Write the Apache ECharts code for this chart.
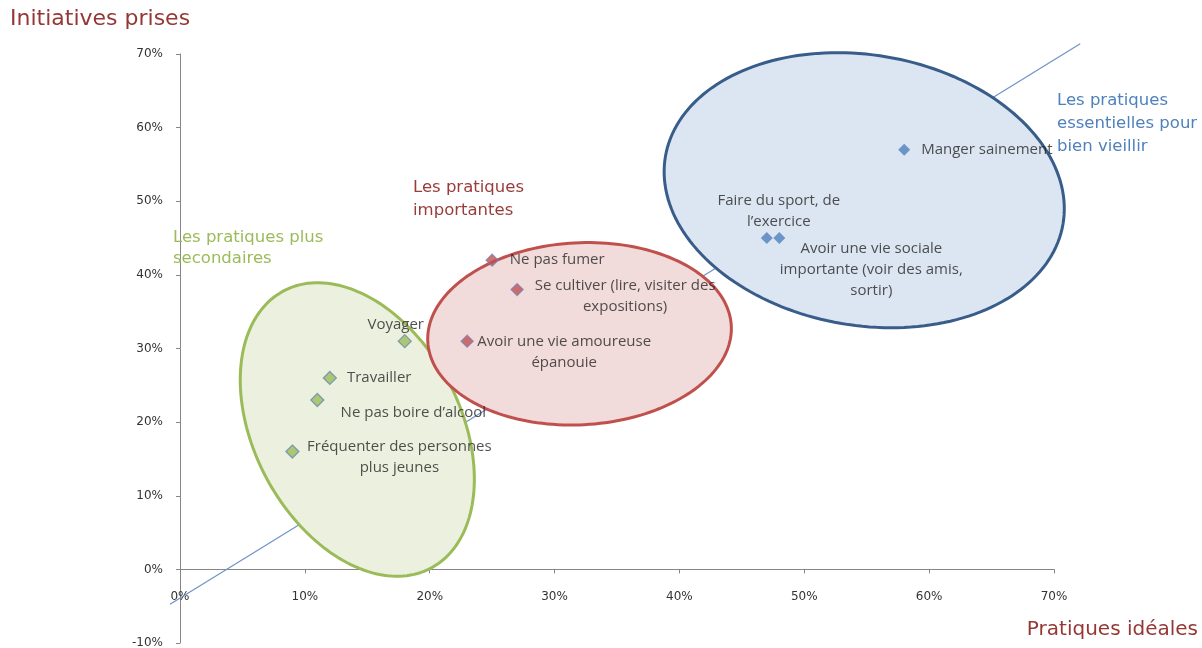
<!DOCTYPE html>
<html>
<head>
<meta charset="utf-8">
<script src="https://cdn.jsdelivr.net/npm/echarts@6/dist/echarts.min.js"></script>
<style>
html,body{margin:0;padding:0;background:#fff;}
#chart{width:1202px;height:648px;}
</style>
</head>
<body>
<div id="chart"></div>
<script>
// ---- Data ----
const xTicks = [0, 10, 20, 30, 40, 50, 60, 70];
const yTicks = [-10, 0, 10, 20, 30, 40, 50, 60, 70];

const secondaryNames = ['Voyager', 'Travailler', 'Ne pas boire d’alcool', 'Fréquenter des personnes\nplus jeunes'];
const secondaryIdeal = [18, 12, 11, 9];
const secondaryTaken = [31, 26, 23, 16];

const importantNames = ['Ne pas fumer', 'Se cultiver (lire, visiter des\nexpositions)', 'Avoir une vie amoureuse\népanouie'];
const importantIdeal = [25, 27, 23];
const importantTaken = [42, 38, 31];

const essentialNames = ['Manger sainement', 'Faire du sport, de\nl’exercice', 'Avoir une vie sociale\nimportante (voir des amis,\nsortir)'];
const essentialIdeal = [58, 47, 48];
const essentialTaken = [57, 45, 45];

const trendIdeal = [-0.8, 72.1];
const trendTaken = [-4.75, 71.4];

// ---- Layout / style (not data) ----
const labelPlacement = {
  'Voyager': {offset: [-9, -16]},
  'Travailler': {right: 10},
  'Ne pas boire d’alcool': {offset: [96, 13]},
  'Fréquenter des personnes\nplus jeunes': {offset: [107, 6]},
  'Ne pas fumer': {right: 11},
  'Se cultiver (lire, visiter des\nexpositions)': {offset: [108, 7]},
  'Avoir une vie amoureuse\népanouie': {offset: [97, 11]},
  'Manger sainement': {right: 11},
  'Faire du sport, de\nl’exercice': {offset: [12, -27]},
  'Avoir une vie sociale\nimportante (voir des amis,\nsortir)': {offset: [92, 32]}
};

// ellipse zones: centre in data units, radii in x-axis units, rotation in degrees (screen, clockwise)
const zones = [
  {c: [14.2, 19.0], r: [8.25, 12.57], rot: -28, fill: '#EBF1DE', stroke: '#9BBB59'},
  {c: [32.0, 32.0], r: [12.17, 7.29], rot: -3, fill: '#F2DCDB', stroke: '#C0504D'},
  {c: [54.8, 51.5], r: [16.15, 10.83], rot: 9.65, fill: '#DCE6F2', stroke: '#385D8A'}
];

const gridTop = 54, gridBottom = 5, chartH = 648;
const yMin = yTicks[0], yMax = yTicks[yTicks.length - 1];
// shift the x axis up so that it crosses the y axis at 0
const xAxisOffset = -((chartH - gridTop - gridBottom) * (0 - yMin) / (yMax - yMin));

function makeData(names, xs, ys) {
  return names.map((n, i) => {
    const p = labelPlacement[n];
    let label;
    if (p.right !== undefined) {
      label = {show: true, position: 'right', distance: p.right, formatter: n, align: 'left', verticalAlign: 'middle'};
    } else {
      label = {show: true, position: 'inside', offset: p.offset, formatter: n, align: 'center', verticalAlign: 'middle'};
    }
    return {name: n, value: [xs[i], ys[i]], label: label};
  });
}

const chart = echarts.init(document.getElementById('chart'), null, {renderer: 'canvas'});

const axisFont = {fontFamily: 'DejaVu Sans', fontSize: 12, color: '#333333'};
const pointLabelStyle = {fontFamily: 'Open Sans', fontSize: 15, color: '#262626', lineHeight: 21};

const option = {
  animation: false,
  backgroundColor: '#ffffff',
  grid: {left: 180, right: 148, top: gridTop, bottom: gridBottom, containLabel: false, outerBoundsMode: 'none'},
  xAxis: {
    type: 'value', min: xTicks[0], max: xTicks[xTicks.length - 1], interval: 10,
    offset: xAxisOffset,
    axisLine: {show: true, onZero: false, lineStyle: {color: '#868686', width: 1}},
    axisTick: {show: true, length: 4, inside: false, lineStyle: {color: '#868686'}},
    axisLabel: Object.assign({margin: 21, formatter: v => v + '%'}, axisFont),
    splitLine: {show: false}
  },
  yAxis: {
    type: 'value', min: yMin, max: yMax, interval: 10,
    axisLine: {show: true, onZero: false, lineStyle: {color: '#868686', width: 1}},
    axisTick: {show: true, length: 4, lineStyle: {color: '#868686'}},
    axisLabel: Object.assign({margin: 17, formatter: v => v + '%'}, axisFont),
    splitLine: {show: false}
  },
  series: [
    {
      type: 'custom', name: 'trend', z: 1, silent: true,
      data: [[trendIdeal[0], trendTaken[0], trendIdeal[1], trendTaken[1]]],
      encode: {x: [0, 2], y: [1, 3]},
      renderItem: function (params, api) {
        const p1 = api.coord([api.value(0), api.value(1)]);
        const p2 = api.coord([api.value(2), api.value(3)]);
        return {
          type: 'line',
          shape: {x1: p1[0], y1: p1[1], x2: p2[0], y2: p2[1]},
          style: {stroke: '#6F93C6', lineWidth: 1.2}
        };
      }
    },
    {
      type: 'custom', name: 'zones', z: 2, silent: true,
      data: zones.map(z => [z.c[0], z.c[1]]),
      renderItem: function (params, api) {
        const z = zones[params.dataIndex];
        const c = api.coord([api.value(0), api.value(1)]);
        const unit = api.size([1, 1])[0];
        const rx = z.r[0] * unit, ry = z.r[1] * unit;
        const a = z.rot * Math.PI / 180;
        const pts = [];
        for (let k = 0; k < 180; k++) {
          const t = k / 180 * Math.PI * 2;
          const lx = rx * Math.cos(t), ly = ry * Math.sin(t);
          pts.push([c[0] + lx * Math.cos(a) - ly * Math.sin(a), c[1] + lx * Math.sin(a) + ly * Math.cos(a)]);
        }
        return {
          type: 'polygon',
          shape: {points: pts},
          style: {fill: z.fill, stroke: z.stroke, lineWidth: 3}
        };
      }
    },
    {
      type: 'scatter', name: 'secondaires', z: 5, symbol: 'diamond', symbolSize: 13,
      itemStyle: {color: '#9BBB59', borderColor: '#6B8CAE', borderWidth: 1.3},
      label: pointLabelStyle,
      data: makeData(secondaryNames, secondaryIdeal, secondaryTaken)
    },
    {
      type: 'scatter', name: 'importantes', z: 5, symbol: 'diamond', symbolSize: 12,
      itemStyle: {color: '#C0504D', borderColor: '#7D7DB8', borderWidth: 1.3},
      label: pointLabelStyle,
      data: makeData(importantNames, importantIdeal, importantTaken)
    },
    {
      type: 'scatter', name: 'essentielles', z: 5, symbol: 'diamond', symbolSize: 12,
      itemStyle: {color: '#4F81BD'},
      label: pointLabelStyle,
      data: makeData(essentialNames, essentialIdeal, essentialTaken)
    }
  ],
  graphic: [
    {type: 'text', left: 10, top: 8, z: 10, style: {text: 'Initiatives prises', fontFamily: 'DejaVu Sans', fontSize: 22, fill: '#953735'}},
    {type: 'text', right: 4, top: 620, z: 10, style: {text: 'Pratiques idéales', fontFamily: 'DejaVu Sans', fontSize: 20, fill: '#953735'}},
    {type: 'text', left: 173, top: 227, z: 10, style: {text: 'Les pratiques plus\nsecondaires', fontFamily: 'DejaVu Sans', fontSize: 16.5, lineHeight: 21, fill: '#9BBB59'}},
    {type: 'text', left: 413, top: 176, z: 10, style: {text: 'Les pratiques\nimportantes', fontFamily: 'DejaVu Sans', fontSize: 16.5, lineHeight: 23, fill: '#993D3A'}},
    {type: 'text', left: 1057, top: 89, z: 10, style: {text: 'Les pratiques\nessentielles pour\nbien vieillir', fontFamily: 'DejaVu Sans', fontSize: 16.5, lineHeight: 23, fill: '#4F81BD'}}
  ]
};
chart.setOption(option);
</script>
</body>
</html>
